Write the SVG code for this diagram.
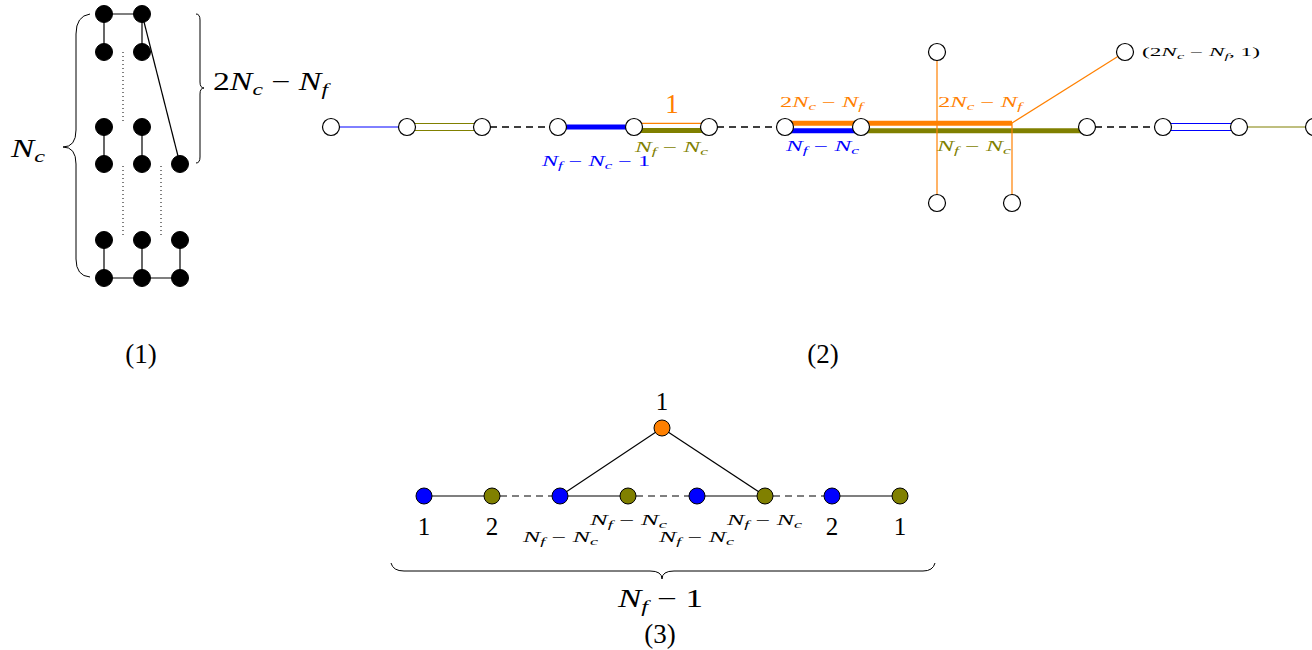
<svg xmlns="http://www.w3.org/2000/svg" width="1312" height="650" viewBox="0 0 1312 650">
<style>
text{font-family:'Liberation Serif','DejaVu Serif',serif;fill:#000}
.big{font-size:25px}
.pl{font-size:27px}
.sm{font-size:14px}
.xs{font-size:12px}
.i{font-style:italic}
.s{font-size:0.7em}
.bn{fill:#000;stroke:#000;stroke-width:1}
.wn{fill:#fff;stroke:#000;stroke-width:1.2}
.cn{stroke:#000;stroke-width:1}
.e{stroke:#000;stroke-width:1.2;fill:none}
.dot{stroke:#000;stroke-width:1;stroke-dasharray:1 3;fill:none}
.dash{stroke:#000;stroke-width:1.3;stroke-dasharray:7 5;fill:none}
.gdash{stroke:#555;stroke-width:1.4;stroke-dasharray:7 5;fill:none}
.g{stroke:#555;stroke-width:1.4;fill:none}
.brace{stroke:#000;stroke-width:1;fill:none}
</style>

<g id="connectors">
  <g id="p1-edges">
    <line class="e" x1="104" y1="14" x2="142" y2="14"/>
    <line class="e" x1="104" y1="14" x2="104" y2="52"/>
    <line class="e" x1="142" y1="14" x2="142" y2="52"/>
    <line class="e" x1="142" y1="14" x2="180" y2="164"/>
    <line class="e" x1="104" y1="127" x2="104" y2="164"/>
    <line class="e" x1="142" y1="127" x2="142" y2="164"/>
    <line class="e" x1="104" y1="240" x2="104" y2="278"/>
    <line class="e" x1="142" y1="240" x2="142" y2="278"/>
    <line class="e" x1="180" y1="240" x2="180" y2="278"/>
    <line class="e" x1="104" y1="278" x2="180" y2="278"/>
    <line class="dot" x1="123" y1="52" x2="123" y2="124"/>
    <line class="dot" x1="123" y1="166" x2="123" y2="238"/>
    <line class="dot" x1="161" y1="166" x2="161" y2="238"/>
  </g>
  <g id="p2-edges">
    <line x1="331" y1="127" x2="407" y2="127" stroke="#0000ff" stroke-width="1"/>
    <line x1="407" y1="123.5" x2="482" y2="123.5" stroke="#808000" stroke-width="1.2"/>
    <line x1="407" y1="130.5" x2="482" y2="130.5" stroke="#808000" stroke-width="1.2"/>
    <line class="dash" x1="490" y1="127" x2="550" y2="127"/>
    <line x1="558" y1="127" x2="634" y2="127" stroke="#0000ff" stroke-width="5"/>
    <line x1="634" y1="123.3" x2="709" y2="123.3" stroke="#ff8000" stroke-width="1.2"/>
    <line x1="634" y1="130.5" x2="709" y2="130.5" stroke="#808000" stroke-width="5"/>
    <line class="dash" x1="717" y1="127" x2="777" y2="127"/>
    <line x1="785" y1="123.2" x2="1012" y2="123.2" stroke="#ff8000" stroke-width="5"/>
    <line x1="785" y1="130.8" x2="861" y2="130.8" stroke="#0000ff" stroke-width="5"/>
    <line x1="861" y1="130.8" x2="1087" y2="130.8" stroke="#808000" stroke-width="5"/>
    <line x1="937" y1="52" x2="937" y2="203" stroke="#ff8000" stroke-width="1.2"/>
    <line x1="1012" y1="123" x2="1012" y2="203" stroke="#ff8000" stroke-width="1.2"/>
    <line x1="1012" y1="123" x2="1125" y2="52" stroke="#ff8000" stroke-width="1.2"/>
    <line class="dash" x1="1095" y1="127" x2="1155" y2="127"/>
    <line x1="1163" y1="123.5" x2="1239" y2="123.5" stroke="#0000ff" stroke-width="1.2"/>
    <line x1="1163" y1="130.5" x2="1239" y2="130.5" stroke="#0000ff" stroke-width="1.2"/>
    <line x1="1239" y1="127" x2="1314" y2="127" stroke="#808000" stroke-width="1.2"/>
  </g>
  <g id="p3-edges">
    <line class="g" x1="424" y1="496" x2="492" y2="496"/>
    <line class="gdash" x1="500" y1="496" x2="552" y2="496"/>
    <line class="g" x1="560" y1="496" x2="628" y2="496"/>
    <line class="gdash" x1="636" y1="496" x2="689" y2="496"/>
    <line class="g" x1="697" y1="496" x2="765" y2="496"/>
    <line class="gdash" x1="773" y1="496" x2="824" y2="496"/>
    <line class="g" x1="832" y1="496" x2="900" y2="496"/>
    <line class="e" x1="662" y1="428" x2="560" y2="496"/>
    <line class="e" x1="662" y1="428" x2="765" y2="496"/>
  </g>
</g>

<g id="p1-nodes">
  <circle class="bn" cx="104" cy="14" r="8.5"/>
  <circle class="bn" cx="142" cy="14" r="8.5"/>
  <circle class="bn" cx="104" cy="52" r="8.5"/>
  <circle class="bn" cx="142" cy="52" r="8.5"/>
  <circle class="bn" cx="104" cy="127" r="8.5"/>
  <circle class="bn" cx="142" cy="127" r="8.5"/>
  <circle class="bn" cx="104" cy="164" r="8.5"/>
  <circle class="bn" cx="142" cy="164" r="8.5"/>
  <circle class="bn" cx="180" cy="164" r="8.5"/>
  <circle class="bn" cx="104" cy="240" r="8.5"/>
  <circle class="bn" cx="142" cy="240" r="8.5"/>
  <circle class="bn" cx="180" cy="240" r="8.5"/>
  <circle class="bn" cx="104" cy="278" r="8.5"/>
  <circle class="bn" cx="142" cy="278" r="8.5"/>
  <circle class="bn" cx="180" cy="278" r="8.5"/>
</g>
<g id="p1-braces">
  <path class="brace" d="M90,14 Q76,16 76,34 L76,130 Q76,147 63,147 Q76,147 76,164 L76,259 Q76,276 90,277"/>
  <path class="brace" d="M196,14 Q200,14 200,20 L200,82 Q200,88 204,88 Q200,88 200,94 L200,157 Q200,163 196,163"/>
  <text class="big" x="11" y="157" textLength="34" lengthAdjust="spacingAndGlyphs"><tspan class="i">N</tspan><tspan class="i s" dy="5">c</tspan></text>
  <text class="big" x="213" y="90" textLength="115" lengthAdjust="spacingAndGlyphs">2<tspan class="i">N</tspan><tspan class="i s" dy="5">c</tspan><tspan dy="-5"> − </tspan><tspan class="i">N</tspan><tspan class="i s" dy="5">f</tspan></text>
  <text class="pl" x="141" y="363" text-anchor="middle">(1)</text>
</g>

<g id="p2-nodes">
  <circle class="wn" cx="331" cy="127" r="8.5"/>
  <circle class="wn" cx="407" cy="127" r="8.5"/>
  <circle class="wn" cx="482" cy="127" r="8.5"/>
  <circle class="wn" cx="558" cy="127" r="8.5"/>
  <circle class="wn" cx="634" cy="127" r="8.5"/>
  <circle class="wn" cx="709" cy="127" r="8.5"/>
  <circle class="wn" cx="785" cy="127" r="8.5"/>
  <circle class="wn" cx="861" cy="127" r="8.5"/>
  <circle class="wn" cx="1087" cy="127" r="8.5"/>
  <circle class="wn" cx="937" cy="52" r="8.5"/>
  <circle class="wn" cx="937" cy="203" r="8.5"/>
  <circle class="wn" cx="1012" cy="203" r="8.5"/>
  <circle class="wn" cx="1125" cy="52" r="8.5"/>
  <circle class="wn" cx="1163" cy="127" r="8.5"/>
  <circle class="wn" cx="1239" cy="127" r="8.5"/>
  <circle class="wn" cx="1314" cy="127" r="8.5"/>
</g>
<g id="p2-labels">
  <text x="672" y="113" text-anchor="middle" style="fill:#ff8000;font-size:27px">1</text>
  <text class="sm" x="635" y="152" textLength="73" lengthAdjust="spacingAndGlyphs" style="fill:#808000"><tspan class="i">N</tspan><tspan class="i s" dy="3">f</tspan><tspan dy="-3"> − </tspan><tspan class="i">N</tspan><tspan class="i s" dy="3">c</tspan></text>
  <text class="sm" x="542" y="166" textLength="108" lengthAdjust="spacingAndGlyphs" style="fill:#0000ff"><tspan class="i">N</tspan><tspan class="i s" dy="3">f</tspan><tspan dy="-3"> − </tspan><tspan class="i">N</tspan><tspan class="i s" dy="3">c</tspan><tspan dy="-3"> − 1</tspan></text>
  <text class="sm" x="780" y="107" textLength="83" lengthAdjust="spacingAndGlyphs" style="fill:#ff8000">2<tspan class="i">N</tspan><tspan class="i s" dy="3">c</tspan><tspan dy="-3"> − </tspan><tspan class="i">N</tspan><tspan class="i s" dy="3">f</tspan></text>
  <text class="sm" x="938" y="107" textLength="84" lengthAdjust="spacingAndGlyphs" style="fill:#ff8000">2<tspan class="i">N</tspan><tspan class="i s" dy="3">c</tspan><tspan dy="-3"> − </tspan><tspan class="i">N</tspan><tspan class="i s" dy="3">f</tspan></text>
  <text class="sm" x="786" y="151" textLength="73" lengthAdjust="spacingAndGlyphs" style="fill:#0000ff"><tspan class="i">N</tspan><tspan class="i s" dy="3">f</tspan><tspan dy="-3"> − </tspan><tspan class="i">N</tspan><tspan class="i s" dy="3">c</tspan></text>
  <text class="sm" x="937" y="151" textLength="74" lengthAdjust="spacingAndGlyphs" style="fill:#808000"><tspan class="i">N</tspan><tspan class="i s" dy="3">f</tspan><tspan dy="-3"> − </tspan><tspan class="i">N</tspan><tspan class="i s" dy="3">c</tspan></text>
  <text class="xs" x="1142" y="56" textLength="118" lengthAdjust="spacingAndGlyphs">(2<tspan class="i">N</tspan><tspan class="i s" dy="3">c</tspan><tspan dy="-3"> − </tspan><tspan class="i">N</tspan><tspan class="i s" dy="3">f</tspan><tspan dy="-3">, 1)</tspan></text>
  <text class="pl" x="823" y="363" text-anchor="middle">(2)</text>
</g>

<g id="p3-nodes">
  <circle class="cn" cx="424" cy="496" r="8" fill="#0000ff"/>
  <circle class="cn" cx="492" cy="496" r="8" fill="#808000"/>
  <circle class="cn" cx="560" cy="496" r="8" fill="#0000ff"/>
  <circle class="cn" cx="628" cy="496" r="8" fill="#808000"/>
  <circle class="cn" cx="697" cy="496" r="8" fill="#0000ff"/>
  <circle class="cn" cx="765" cy="496" r="8" fill="#808000"/>
  <circle class="cn" cx="832" cy="496" r="8" fill="#0000ff"/>
  <circle class="cn" cx="900" cy="496" r="8" fill="#808000"/>
  <circle class="cn" cx="662" cy="428" r="8" fill="#ff8000"/>
</g>
<g id="p3-labels">
  <text class="big" x="662" y="410" text-anchor="middle">1</text>
  <text class="big" x="424" y="535" text-anchor="middle">1</text>
  <text class="big" x="492" y="535" text-anchor="middle">2</text>
  <text class="big" x="832" y="535" text-anchor="middle">2</text>
  <text class="big" x="900" y="535" text-anchor="middle">1</text>
  <text class="sm" x="590" y="525" textLength="77" lengthAdjust="spacingAndGlyphs"><tspan class="i">N</tspan><tspan class="i s" dy="3">f</tspan><tspan dy="-3"> − </tspan><tspan class="i">N</tspan><tspan class="i s" dy="3">c</tspan></text>
  <text class="sm" x="727" y="525" textLength="75" lengthAdjust="spacingAndGlyphs"><tspan class="i">N</tspan><tspan class="i s" dy="3">f</tspan><tspan dy="-3"> − </tspan><tspan class="i">N</tspan><tspan class="i s" dy="3">c</tspan></text>
  <text class="sm" x="523" y="542" textLength="75" lengthAdjust="spacingAndGlyphs"><tspan class="i">N</tspan><tspan class="i s" dy="3">f</tspan><tspan dy="-3"> − </tspan><tspan class="i">N</tspan><tspan class="i s" dy="3">c</tspan></text>
  <text class="sm" x="659" y="542" textLength="75" lengthAdjust="spacingAndGlyphs"><tspan class="i">N</tspan><tspan class="i s" dy="3">f</tspan><tspan dy="-3"> − </tspan><tspan class="i">N</tspan><tspan class="i s" dy="3">c</tspan></text>
  <path class="brace" d="M391,563 Q393,571 404,571 L650,571 Q662,571 662,579 Q662,571 674,571 L923,571 Q933,571 935,563"/>
  <text class="big" x="618" y="607" textLength="85" lengthAdjust="spacingAndGlyphs"><tspan class="i">N</tspan><tspan class="i s" dy="5">f</tspan><tspan dy="-5"> − 1</tspan></text>
  <text class="pl" x="660" y="643" text-anchor="middle">(3)</text>
</g>
</svg>
